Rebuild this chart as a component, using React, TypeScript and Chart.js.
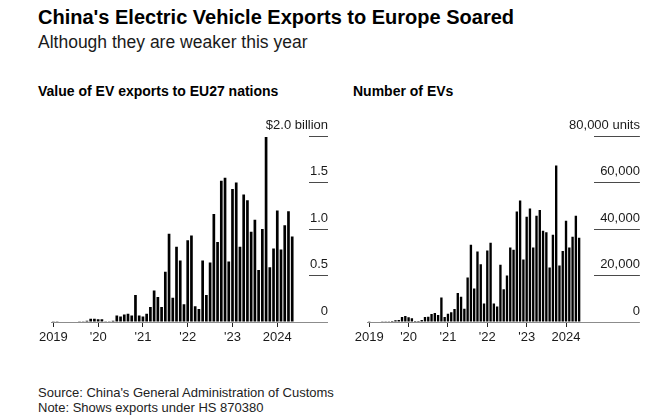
import React, { useEffect, useRef } from "react";
import { Chart, registerables } from "chart.js";

Chart.register(...registerables);

const FONT = "'Liberation Sans', Arial, Helvetica, sans-serif";

// Monthly categories Jan 2019 .. Sep 2024 (data through May 2024)
const startYear = 2019;
const categoryCount = 69;
const months: string[] = [];
for (let i = 0; i < categoryCount; i++) {
  const y = startYear + Math.floor(i / 12);
  const m = (i % 12) + 1;
  months.push(`${y}-${m < 10 ? "0" + m : m}`);
}

const yearTickLabels = ["2019", "'20", "'21", "'22", "'23", "2024"];

// Value of EV exports to EU27 nations, $ billion (Jan 2019 – May 2024)
const value2019 = [0.004, 0.004, 0.005, 0.005, 0.005, 0.006, 0.006, 0.007, 0.008, 0.014, 0.036, 0.036];
const value2020 = [0.03, 0.03, 0.007, 0.004, 0.014, 0.07, 0.06, 0.08, 0.09, 0.07, 0.29, 0.07];
const value2021 = [0.06, 0.09, 0.16, 0.34, 0.27, 0.16, 0.54, 0.95, 0.26, 0.81, 0.66, 0.19];
const value2022 = [0.88, 0.93, 0.17, 0.14, 0.66, 0.29, 0.64, 1.16, 0.86, 1.52, 1.55, 0.65];
const value2023 = [1.43, 1.5, 0.81, 1.37, 1.31, 0.97, 1.1, 0.56, 1.0, 1.99, 0.59, 0.79];
const value2024 = [1.2, 0.78, 1.04, 1.19, 0.92];

// Number of EVs (units)
const units2019 = [150, 200, 250, 250, 300, 300, 350, 400, 720, 860, 2160, 2590];
const units2020 = [2010, 1580, 430, 430, 860, 2160, 2300, 3450, 3880, 3020, 10500, 2160];
const units2021 = [3600, 4170, 5610, 12500, 10860, 5750, 19140, 33240, 14390, 30360, 24890, 7910];
const units2022 = [30790, 34100, 7910, 6620, 24600, 14100, 20000, 32090, 31080, 47480, 52230, 26900];
const units2023 = [45320, 48770, 32090, 45750, 48200, 39280, 38560, 23450, 37550, 67340, 24320, 30500];
const units2024 = [43600, 32090, 36690, 45750, 36260];

const valueTickLabels = ["0", "0.5", "1.0", "1.5", "$2.0 billion"];
const unitTickLabels = ["0", "20,000", "40,000", "60,000", "80,000 units"];

const valueSeries = [...value2019, ...value2020, ...value2021, ...value2022, ...value2023, ...value2024];
const unitSeries = [...units2019, ...units2020, ...units2021, ...units2022, ...units2023, ...units2024];

type Spec = {
  data: number[];
  max: number;
  step: number;
  yLabels: string[];
  tickLen: number;
  padding: { left: number; right: number; top: number; bottom: number };
};

function makeConfig(spec: Spec): any {
  return {
    type: "bar",
    data: {
      labels: months,
      datasets: [
        {
          data: spec.data,
          backgroundColor: "#000",
          borderWidth: 0,
          barPercentage: 0.72,
          categoryPercentage: 1.0,
        },
      ],
    },
    options: {
      responsive: false,
      animation: false,
      devicePixelRatio: 1,
      layout: { padding: spec.padding },
      plugins: { legend: { display: false }, tooltip: { enabled: false } },
      scales: {
        x: {
          type: "category",
          offset: true,
          grid: {
            display: true,
            drawOnChartArea: false,
            drawTicks: true,
            tickLength: 5,
            offset: false,
            lineWidth: 1,
            color: (ctx: any) => (ctx.index % 12 === 0 ? "#222" : "rgba(0,0,0,0)"),
            tickColor: (ctx: any) => (ctx.index % 12 === 0 ? "#222" : "rgba(0,0,0,0)"),
          },
          border: { display: true, color: "#8c8c8c", width: 1 },
          ticks: {
            autoSkip: false,
            maxRotation: 0,
            minRotation: 0,
            padding: 3,
            color: "#1a1a1a",
            font: { family: FONT, size: 13 },
            callback: (_v: any, i: number) => (i % 12 === 0 ? yearTickLabels[i / 12] ?? "" : ""),
          },
          afterFit: (s: any) => {
            s.height = 26;
          },
        },
        y: {
          position: "right",
          min: 0,
          max: spec.max,
          grid: {
            drawOnChartArea: false,
            drawTicks: true,
            tickLength: spec.tickLen,
            lineWidth: 1,
            color: (ctx: any) => (ctx.tick && ctx.tick.value === 0 ? "#8c8c8c" : "#4a4a4a"),
            tickColor: (ctx: any) => (ctx.tick && ctx.tick.value === 0 ? "#8c8c8c" : "#4a4a4a"),
          },
          border: { display: false },
          ticks: {
            stepSize: spec.step,
            mirror: true,
            crossAlign: "near",
            padding: spec.tickLen,
            labelOffset: -11,
            color: "#1a1a1a",
            font: { family: FONT, size: 13 },
            callback: (_v: any, i: number) => spec.yLabels[i],
          },
          afterFit: (s: any) => {
            s.width = spec.tickLen;
          },
        },
      },
    },
  };
}

function BarChart(props: { spec: Spec; style: React.CSSProperties; width: number; height: number }) {
  const ref = useRef<HTMLCanvasElement | null>(null);
  useEffect(() => {
    if (!ref.current) return;
    const chart = new Chart(ref.current, makeConfig(props.spec));
    return () => chart.destroy();
  }, []);
  return (
    <canvas
      ref={ref}
      width={props.width}
      height={props.height}
      style={{ position: "absolute", width: props.width, height: props.height, ...props.style }}
    />
  );
}

// plot area: x 51.5..309, y 136..322
const leftSpec: Spec = {
  data: valueSeries,
  max: 2,
  step: 0.5,
  yLabels: valueTickLabels,
  tickLen: 19,
  padding: { left: 21.5, right: 12, top: 28, bottom: 2 },
};

// plot area: x 367.6..594, y 136..322 (canvas is taller to leave room for tick padding)
const rightSpec: Spec = {
  data: unitSeries,
  max: 80000,
  step: 20000,
  yLabels: unitTickLabels,
  tickLen: 46,
  padding: { left: 22.6, right: 15.1, top: 56, bottom: 30 },
};

function Text(props: { x: number; y: number; size: number; bold?: boolean; color?: string; children: any }) {
  return (
    <div
      style={{
        position: "absolute",
        left: props.x,
        top: props.y,
        fontFamily: FONT,
        fontSize: props.size,
        lineHeight: `${props.size}px`,
        fontWeight: props.bold ? 700 : 400,
        color: props.color ?? "#111",
        whiteSpace: "nowrap",
      }}
    >
      {props.children}
    </div>
  );
}

export default function App() {
  return (
    <div
      style={{
        position: "fixed",
        left: 0,
        top: 0,
        width: 667,
        height: 416,
        background: "#fff",
        overflow: "hidden",
      }}
    >
      <Text x={38} y={7.1} size={20} bold color="#000">
        China's Electric Vehicle Exports to Europe Soared
      </Text>
      <Text x={38} y={33.5} size={17.5} color="#1a1a1a">
        Although they are weaker this year
      </Text>
      <Text x={38} y={83.6} size={14} bold color="#000">
        Value of EV exports to EU27 nations
      </Text>
      <Text x={353} y={83.6} size={14} bold color="#000">
        Number of EVs
      </Text>
      <BarChart spec={leftSpec} width={310} height={242} style={{ left: 30, top: 108 }} />
      <BarChart spec={rightSpec} width={310} height={298} style={{ left: 345, top: 80 }} />
      <Text x={38} y={386.3} size={13} color="#222">
        Source: China's General Administration of Customs
      </Text>
      <Text x={38} y={400.7} size={13} color="#222">
        Note: Shows exports under HS 870380
      </Text>
    </div>
  );
}
